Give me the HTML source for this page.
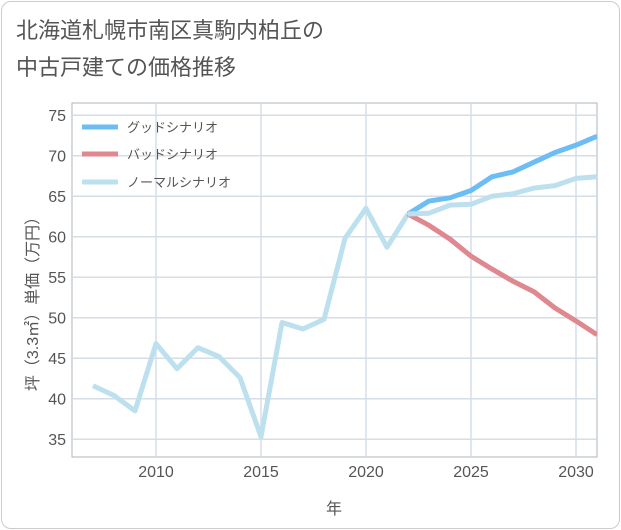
<!DOCTYPE html>
<html><head><meta charset="utf-8"><style>
body{margin:0;background:#fff;}
.card{position:absolute;left:1px;top:1px;width:617px;height:526px;border:1px solid #ccc;border-radius:10px;background:#fff;}
.title{position:absolute;left:16px;top:12px;font:22px "Liberation Sans","Noto Sans CJK JP",sans-serif;color:#555;line-height:37px;}
</style></head><body>
<div class="card"></div>
<div class="title">北海道札幌市南区真駒内柏丘の<br>中古戸建ての価格推移</div>
<svg id="c" width="621" height="530" style="position:absolute;left:0;top:0" font-family="Liberation Sans, Noto Sans CJK JP, sans-serif"></svg>
<script>
const years=[2007,2008,2009,2010,2011,2012,2013,2014,2015,2016,2017,2018,2019,2020,2021,2022];
const hist=[41.6,40.4,38.5,46.8,43.7,46.3,45.2,42.6,35.3,49.4,48.6,49.8,59.8,63.5,58.7,62.8];
const fYears=[2022,2023,2024,2025,2026,2027,2028,2029,2030,2031];
const good=[62.8,64.4,64.8,65.7,67.4,68.0,69.2,70.4,71.3,72.4];
const bad=[62.8,61.4,59.7,57.6,56.0,54.5,53.2,51.2,49.6,47.9];
const normal=[62.8,62.9,63.9,64.0,65.0,65.3,66.0,66.3,67.2,67.4];
const yTicks=[35,40,45,50,55,60,65,70,75];
const xTicks=[2010,2015,2020,2025,2030];
const L=72,R=597,T=103,B=457;
const x=v=>156+(v-2010)*21;
const y=v=>236.7-(v-60)*8.1;
const s=document.getElementById('c'),NS='http://www.w3.org/2000/svg';
function mk(t,a,p){const e=document.createElementNS(NS,t);for(const k in a)e.setAttribute(k,a[k]);(p||s).appendChild(e);return e;}
const bg=mk('rect',{x:L,y:T,width:R-L,height:B-T,fill:'#fff',stroke:'#aab4be'});


yTicks.forEach(v=>{const g=mk('line',{x1:L,x2:R,y1:y(v),y2:y(v),stroke:'#d5dee7','stroke-width':1.5});


const t=mk('text',{x:L-6,y:y(v)+6,'text-anchor':'end','font-size':16,fill:'#555'});t.textContent=v;

});
xTicks.forEach(v=>{const g=mk('line',{x1:x(v),x2:x(v),y1:T,y2:B,stroke:'#d5dee7','stroke-width':1.5});


const t=mk('text',{x:x(v),y:477,'text-anchor':'middle','font-size':16,fill:'#555'});t.textContent=v;

});
function line(xs,ys,c,n){const p=mk('polyline',{points:xs.map((v,i)=>x(v)+','+y(ys[i])).join(' '),fill:'none',stroke:c,'stroke-width':5,'stroke-linejoin':'round'});

}
const clip=mk('clipPath',{id:'cp'});mk('rect',{x:L,y:T,width:R-L,height:B-T},clip);
line(years,hist,'#bde0ee','history-line');
line(fYears,bad,'#e0888f','bad-scenario-line');
line(fYears,good,'#6bbdf3','good-scenario-line');
line(fYears,normal,'#bde0ee','normal-scenario-line');
s.querySelectorAll('polyline').forEach(p=>p.setAttribute('clip-path','url(#cp)'));
const leg=[['グッドシナリオ','#6bbdf3',127],['バッドシナリオ','#e0888f',154],['ノーマルシナリオ','#bde0ee',182]];
leg.forEach(l=>{const g=mk('g',{});


mk('line',{x1:82,x2:118,y1:l[2],y2:l[2],stroke:l[1],'stroke-width':5},g);
const t=mk('text',{x:127,y:l[2]+5,'font-size':13,fill:'#555'},g);t.textContent=l[0];});
const xt=mk('text',{x:334,y:514,'text-anchor':'middle','font-size':16,fill:'#555'});xt.textContent='年';


const yt=mk('text',{x:0,y:0,'text-anchor':'middle','font-size':16,fill:'#555',transform:'translate(38,300) rotate(-90)'});yt.textContent='坪（3.3㎡）単価（万円）';


</script>
</body></html>
